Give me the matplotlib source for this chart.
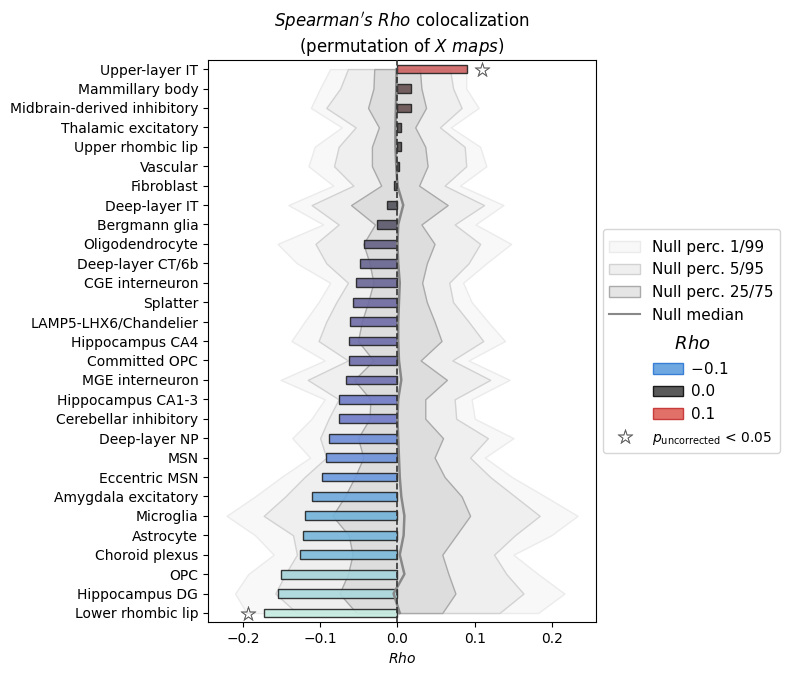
import numpy as np
import matplotlib.pyplot as plt
from matplotlib.colors import LinearSegmentedColormap, Normalize
from matplotlib.patches import Patch, Rectangle
from matplotlib.lines import Line2D
from matplotlib.legend_handler import HandlerBase, HandlerPatch

# cell types, top to bottom
cells = ["Upper-layer IT", "Mammillary body", "Midbrain-derived inhibitory",
         "Thalamic excitatory", "Upper rhombic lip", "Vascular", "Fibroblast",
         "Deep-layer IT", "Bergmann glia", "Oligodendrocyte", "Deep-layer CT/6b",
         "CGE interneuron", "Splatter", "LAMP5-LHX6/Chandelier", "Hippocampus CA4",
         "Committed OPC", "MGE interneuron", "Hippocampus CA1-3",
         "Cerebellar inhibitory", "Deep-layer NP", "MSN", "Eccentric MSN",
         "Amygdala excitatory", "Microglia", "Astrocyte", "Choroid plexus", "OPC",
         "Hippocampus DG", "Lower rhombic lip"]

rho = [0.090, 0.018, 0.018, 0.005, 0.004, 0.002, -0.005, -0.013, -0.026, -0.043,
       -0.049, -0.054, -0.058, -0.062, -0.063, -0.063, -0.066, -0.076, -0.076,
       -0.089, -0.092, -0.097, -0.110, -0.119, -0.122, -0.126, -0.151, -0.154,
       -0.173]
signif = [0, 28]

# null distribution percentiles
p01 = [-0.087, -0.100, -0.112, -0.072, -0.107, -0.115, -0.083, -0.141, -0.096, -0.155,
       -0.130, -0.087, -0.102, -0.120, -0.137, -0.094, -0.151, -0.094, -0.111, -0.136,
       -0.113, -0.150, -0.184, -0.221, -0.184, -0.160, -0.193, -0.210, -0.195]
p05 = [-0.064, -0.074, -0.092, -0.054, -0.076, -0.082, -0.057, -0.111, -0.076, -0.106,
       -0.092, -0.064, -0.079, -0.092, -0.102, -0.064, -0.116, -0.076, -0.089, -0.100,
       -0.092, -0.120, -0.145, -0.173, -0.135, -0.130, -0.145, -0.158, -0.130]
p25 = [-0.030, -0.031, -0.038, -0.024, -0.033, -0.033, -0.021, -0.060, -0.029, -0.044,
       -0.036, -0.031, -0.038, -0.046, -0.051, -0.031, -0.056, -0.035, -0.036, -0.051,
       -0.044, -0.055, -0.068, -0.084, -0.063, -0.058, -0.064, -0.075, -0.053]
p50 = [-0.001, -0.0015, -0.002, -0.0025, -0.0025, -0.0015, 0.0, 0.0075, 0.001, 0.0,
       0.001, 0.003, 0.002, 0.001, 0.001, 0.002, 0.005, 0.001, 0.0, 0.001,
       0.002, 0.003, 0.005, 0.009, 0.008, 0.003, 0.009, -0.005, 0.003]
p75 = [0.029, 0.031, 0.037, 0.023, 0.036, 0.039, 0.028, 0.065, 0.031, 0.048,
       0.038, 0.032, 0.038, 0.048, 0.057, 0.030, 0.064, 0.036, 0.036, 0.059,
       0.048, 0.061, 0.083, 0.094, 0.076, 0.058, 0.066, 0.075, 0.058]
p95 = [0.068, 0.072, 0.083, 0.055, 0.087, 0.089, 0.061, 0.112, 0.074, 0.107,
       0.092, 0.067, 0.072, 0.092, 0.111, 0.071, 0.120, 0.074, 0.076, 0.117,
       0.094, 0.120, 0.152, 0.184, 0.152, 0.125, 0.141, 0.163, 0.132]
p99 = [0.089, 0.089, 0.105, 0.069, 0.107, 0.115, 0.081, 0.137, 0.101, 0.147,
       0.115, 0.085, 0.096, 0.117, 0.139, 0.092, 0.145, 0.096, 0.100, 0.150,
       0.113, 0.148, 0.191, 0.233, 0.199, 0.150, 0.182, 0.216, 0.182]

# colour scale
cm_pos = [-0.175, -0.15, -0.12, -0.1, -0.08, -0.06, -0.03, 0.0, 0.1]
cm_col = ['#c6ece0', '#a4d4dc', '#72b4da', '#6a9ee0', '#7080d0', '#6e6aa2',
          '#5c5a6e', '#4c4c4c', '#dc6464']
norm = Normalize(cm_pos[0], cm_pos[-1])
cmap = LinearSegmentedColormap.from_list(
    'rho', list(zip([norm(v) for v in cm_pos], cm_col)))


# legend helpers: extra space above some rows, indented colour patches
class Spacer(HandlerBase):
    def legend_artist(self, legend, orig_handle, fontsize, handlebox):
        handlebox.height += 6
        a = Line2D([], [])
        handlebox.add_artist(a)
        return a


class TallPatch(HandlerPatch):
    def legend_artist(self, legend, orig_handle, fontsize, handlebox):
        a = super().legend_artist(legend, orig_handle, fontsize, handlebox)
        handlebox.height += 4
        return a


def shifted(legend, orig_handle, xdescent, ydescent, width, height, fontsize):
    return Rectangle((-xdescent + 31, -ydescent), width, height)


fig, ax = plt.subplots(figsize=(7.88, 6.76), dpi=100)
fig.subplots_adjust(left=0.264, right=0.756, top=0.911, bottom=0.080)

y = np.arange(len(cells))
ax.fill_betweenx(y, p01, p99, facecolor='#f8f8f8', edgecolor='#ebebeb', lw=1, zorder=1)
ax.fill_betweenx(y, p05, p95, facecolor='#efefef', edgecolor='#d2d2d2', lw=1, zorder=1)
ax.fill_betweenx(y, p25, p75, facecolor='#dddddd', edgecolor='#aaaaaa', lw=1, zorder=1)

ax.barh(y, rho, height=0.45, color=[cmap(norm(v)) for v in rho], alpha=0.9,
        edgecolor='#222222', lw=1, zorder=2)
ax.plot(p50, y, color='#888888', lw=1.8, zorder=3)
ax.axvline(0, color='#333333', ls='--', lw=1.2, zorder=4)

for i in signif:
    off = 0.02 if rho[i] > 0 else -0.02
    ax.plot(rho[i] + off, i, marker='$☆$', ms=11, color='#555555', mew=0.3, zorder=5)

ax.set_yticks(y)
ax.set_yticklabels(cells)
ax.set_ylim(len(cells) - 0.54, -0.46)
ax.set_xlim(-0.245, 0.2565)
ax.set_xticks([-0.2, -0.1, 0.0, 0.1, 0.2])
ax.set_xlabel('$Rho$')
ax.set_title("$Spearman's\\ Rho$ colocalization\n(permutation of $X\\ maps$)", fontsize=12)

first = Patch(facecolor='#f8f8f8', edgecolor='#ebebeb')
rho_title = Line2D([], [], ls='none')
c_neg = Patch(facecolor='#6fa8e0', edgecolor='#3a7fd6')
c_zero = Patch(facecolor='#5a5a5a', edgecolor='#1a1a1a')
c_pos = Patch(facecolor='#e07068', edgecolor='#c83c3c')
handles = [
    first,
    Patch(facecolor='#efefef', edgecolor='#d2d2d2'),
    Patch(facecolor='#e5e5e5', edgecolor='#aaaaaa'),
    Line2D([], [], color='#888888', lw=1.5),
    rho_title, c_neg, c_zero, c_pos,
    Line2D([], [], ls='none', marker='$☆$', ms=11, color='#555555', mew=0.3),
]
labels = ['Null perc. 1/99', 'Null perc. 5/95', 'Null perc. 25/75', 'Null median',
          '    $Rho$', '        $-$0.1', '        0.0', '        0.1',
          '$p_{\\mathrm{uncorrected}}$ < 0.05']
hp = HandlerPatch(patch_func=shifted)
leg = ax.legend(handles, labels, loc='center left', bbox_to_anchor=(1, 0.5),
                fontsize=11,
                handler_map={first: TallPatch(), rho_title: Spacer(),
                             c_neg: hp, c_zero: hp, c_pos: hp})
texts = leg.get_texts()
texts[4].set_fontsize(13)
texts[8].set_fontsize(10)

plt.savefig('out.png')
